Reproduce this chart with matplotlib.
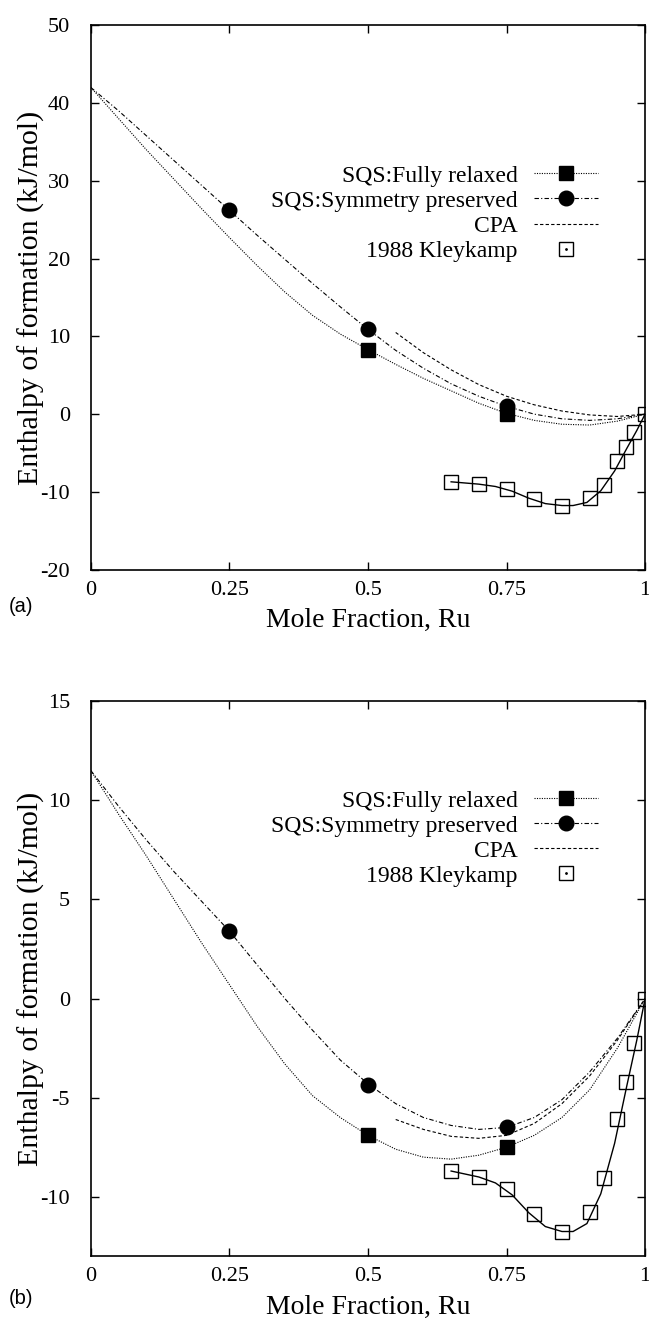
import numpy as np
import matplotlib
matplotlib.use('Agg')
import matplotlib.pyplot as plt
from matplotlib.lines import Line2D

plt.rcParams['font.family'] = ['Liberation Serif', 'DejaVu Serif']
plt.rcParams['axes.unicode_minus'] = False

# mole fraction grid used when reading the curves off the picture
x_curve = [0.0, 0.05, 0.10, 0.15, 0.20, 0.25, 0.30, 0.35, 0.40, 0.45, 0.50,
           0.55, 0.60, 0.65, 0.70, 0.75, 0.80, 0.85, 0.90, 0.95, 1.0]
x_cpa = [0.55, 0.60, 0.65, 0.70, 0.75, 0.80, 0.85, 0.90, 0.95, 1.0]

# (a)
a_relax_curve = [42.0, 38.0, 34.0, 30.2, 26.4, 22.7, 19.1, 15.7, 12.7, 10.3, 8.3,
                 6.4, 4.6, 3.0, 1.4, 0.1, -0.8, -1.3, -1.4, -0.9, 0.0]
a_sym_curve = [42.0, 39.0, 35.8, 32.6, 29.4, 26.2, 23.0, 19.9, 16.8, 13.8, 10.9,
               8.2, 5.9, 3.9, 2.3, 1.0, 0.0, -0.6, -0.8, -0.6, 0.0]
a_cpa_curve = [10.5, 7.9, 5.7, 3.8, 2.3, 1.2, 0.4, -0.1, -0.3, 0.0]
a_relax_x = [0.5, 0.75]
a_relax_pts = [8.3, 0.0]
a_sym_x = [0.25, 0.5, 0.75]
a_sym_pts = [26.2, 10.9, 1.0]

# (b)
b_relax_curve = [11.5, 9.3, 7.2, 5.0, 2.8, 0.7, -1.4, -3.3, -4.9, -6.0, -6.9,
                 -7.6, -8.0, -8.1, -7.9, -7.5, -6.9, -6.0, -4.6, -2.5, 0.0]
b_sym_curve = [11.5, 9.7, 8.0, 6.4, 4.9, 3.4, 1.7, 0.0, -1.6, -3.1, -4.3,
               -5.3, -6.0, -6.4, -6.6, -6.5, -6.0, -5.1, -3.7, -2.0, 0.0]
b_cpa_curve = [-6.1, -6.6, -6.95, -7.05, -6.9, -6.3, -5.3, -3.9, -2.1, 0.0]
b_relax_x = [0.5, 0.75]
b_relax_pts = [-6.9, -7.5]
b_sym_x = [0.25, 0.5, 0.75]
b_sym_pts = [3.4, -4.35, -6.5]

# 1988 Kleykamp, same in both panels
kley_x = [0.65, 0.70, 0.75, 0.80, 0.85, 0.90, 0.925, 0.95, 0.965, 0.98, 1.0]
kley_y = [-8.7, -9.0, -9.6, -10.85, -11.75, -10.75, -9.05, -6.05, -4.2, -2.25, 0.0]
fit_x = [0.65, 0.70, 0.73, 0.76, 0.79, 0.82, 0.85, 0.87, 0.895, 0.92, 0.945, 0.967, 0.985, 1.0]
fit_y = [-8.7, -9.0, -9.3, -9.9, -10.8, -11.5, -11.75, -11.75, -11.35, -9.85, -7.3, -4.4, -2.1, 0.0]

xticks = [0, 0.25, 0.5, 0.75, 1]
xticklabels = ['0', '0.25', '0.5', '0.75', '1']
a_yticks = [-20, -10, 0, 10, 20, 30, 40, 50]
b_yticks = [-10, -5, 0, 5, 10, 15]

fig = plt.figure(figsize=(6.49, 13.28), dpi=100)
ax1 = fig.add_axes([0.140, 0.571, 0.854, 0.410])
ax2 = fig.add_axes([0.140, 0.054, 0.854, 0.418])

lw = 0.8
ms = 10.5


def draw(ax, relax_c, sym_c, cpa_c, rx, ry, sx, sy, legtop):
    ax.plot(x_curve, relax_c, color='black', lw=lw, ls=(0, (1, 1.2)))
    ax.plot(x_curve, sym_c, color='black', lw=lw, ls=(0, (4, 2, 1, 2)))
    ax.plot(x_cpa, cpa_c, color='black', lw=lw, ls=(0, (3, 2)))
    ax.plot(rx, ry, 's', color='black', ms=ms)
    ax.plot(sx, sy, 'o', color='black', ms=ms)
    ax.plot(fit_x, fit_y, color='black', lw=1.0)
    ax.plot(kley_x, kley_y, 's', mfc='none', mec='black', ms=ms, mew=1.0)

    h1 = Line2D([], [], color='black', lw=lw, ls=(0, (1, 1.2)), marker='s', ms=ms)
    h2 = Line2D([], [], color='black', lw=lw, ls=(0, (4, 2, 1, 2)), marker='o', ms=ms)
    h3 = Line2D([], [], color='black', lw=lw, ls=(0, (3, 2)))
    h4a = Line2D([], [], ls='none', marker='s', mfc='none', mec='black', ms=ms, mew=1.0)
    h4b = Line2D([], [], ls='none', marker='.', color='black', ms=2)
    ax.legend([h1, h2, h3, (h4a, h4b)],
              ['SQS:Fully relaxed', 'SQS:Symmetry preserved', 'CPA', '1988 Kleykamp'],
              loc='upper right', bbox_to_anchor=(0.915, legtop), frameon=False,
              markerfirst=False, numpoints=1, fontsize=17, handlelength=2.7,
              handletextpad=0.7, labelspacing=0.15, borderpad=0, borderaxespad=0)

    ax.set_xlim(0, 1)
    ax.set_xticks(xticks)
    ax.set_xticklabels(xticklabels)
    ax.tick_params(direction='in', top=True, right=True, length=6, width=1,
                   labelsize=16)
    ax.tick_params(axis='x', pad=8)
    ax.tick_params(axis='y', pad=15)
    for s in ax.spines.values():
        s.set_linewidth(1.2)
    ax.set_xlabel('Mole Fraction, Ru', fontsize=20, labelpad=6)
    ax.set_ylabel('Enthalpy of formation (kJ/mol)', fontsize=21.5, labelpad=-3)


draw(ax1, a_relax_curve, a_sym_curve, a_cpa_curve, a_relax_x, a_relax_pts,
     a_sym_x, a_sym_pts, 0.743)
ax1.set_ylim(-20, 50)
ax1.set_yticks(a_yticks)

draw(ax2, b_relax_curve, b_sym_curve, b_cpa_curve, b_relax_x, b_relax_pts,
     b_sym_x, b_sym_pts, 0.84)
ax2.set_ylim(-13, 15)
ax2.set_yticks(b_yticks)

fig.text(9 / 649, 1 - 607 / 1328, '(a)', family='Liberation Sans', fontsize=14.5,
         va='center', ha='left')
fig.text(9 / 649, 1 - 1298 / 1328, '(b)', family='Liberation Sans', fontsize=14.5,
         va='center', ha='left')

fig.savefig('out.png', dpi=100)
